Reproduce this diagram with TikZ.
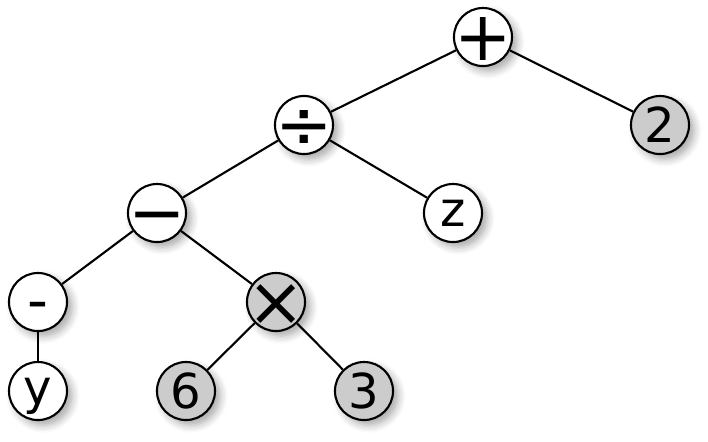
\documentclass[tikz,border=0pt]{standalone}
\usepackage{fontspec}
\setmainfont{DejaVu Sans}
\usetikzlibrary{shadows.blur}

\begin{document}
\begin{tikzpicture}[x=0.01cm, y=-0.01cm,
    term/.style={circle, draw, line width=0.6pt, fill=white, minimum size=0.58cm,
      inner sep=0pt,
      blur shadow={shadow xshift=0.05cm, shadow yshift=-0.05cm, shadow blur steps=6, shadow opacity=35}},
    leaf/.style={fill=black!20},
    sym/.style={font=\fontsize{13.7}{16}\selectfont, inner sep=0pt},
    digit/.style={sym, text height=10pt, text depth=0pt},
    opsym/.style={font=\fontsize{19.5}{20}\selectfont, inner sep=0pt,
      text height=13.1pt, text depth=0pt},
    edge/.style={line width=0.6pt}]
  \useasboundingbox (0,0) rectangle (708,441);

  % Operators
  \node[term, label={[opsym]center:+}] (plus) at (483, 37) {};
  \node[term, label={[opsym]center:÷}] (div) at (304, 125) {};
  \node[term, label={[opsym]center:−}] (minus) at (157, 213) {};
  \node[term, label={[sym, font=\fontsize{16.5}{18}\selectfont, yshift=-0.09cm]center:-}] (neg) at (38, 302) {};
  \node[term, leaf, label={[opsym]center:×}] (times) at (276, 302) {};

  % Operands
  \node[term, leaf, label={[digit]center:2}] (two) at (660, 125) {};
  \node[term, label={[sym]center:z}] (z) at (453, 213) {};
  \node[term, label={[sym, yshift=-0.05cm]center:y}] (y) at (38, 391) {};
  \node[term, leaf, label={[digit]center:6}] (six) at (186, 391) {};
  \node[term, leaf, label={[digit]center:3}] (three) at (364, 391) {};

  % Edges
  \draw[edge] (plus) -- (div);
  \draw[edge] (plus) -- (two);
  \draw[edge] (div) -- (minus);
  \draw[edge] (div) -- (z);
  \draw[edge] (minus) -- (neg);
  \draw[edge] (minus) -- (times);
  \draw[edge] (neg) -- (y);
  \draw[edge] (times) -- (six);
  \draw[edge] (times) -- (three);
\end{tikzpicture}
\end{document}
